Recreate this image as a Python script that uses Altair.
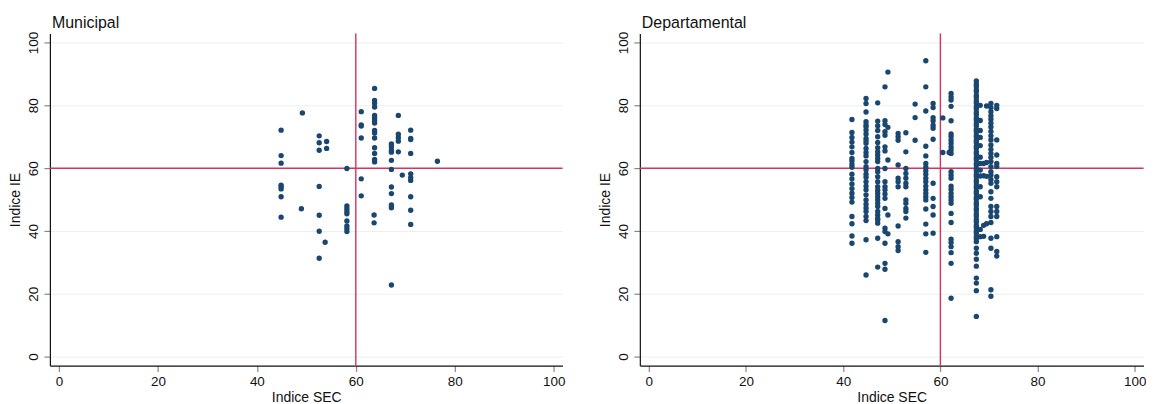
import altair as alt
import pandas as pd

# ---------------- data ----------------
# Municipal: x position (Indice SEC) of each column of points and the y values (Indice IE)
muni_x = [44.9, 49.2, 49.0, 52.6, 54.1, 53.8, 58.2, 61.1, 63.8, 63.7, 67.2, 68.6, 69.4, 71.1, 76.5]
muni_y = [
    [72.1, 64.0, 61.6, 54.6, 54.1, 53.4, 50.9, 44.4],
    [77.6],
    [47.1],
    [70.3, 68.1, 65.7, 54.2, 45.0, 39.9, 31.3],
    [68.5, 66.3],
    [36.4],
    [59.9, 48.0, 47.2, 46.3, 45.5, 43.2, 41.6, 40.7, 39.8],
    [78.0, 73.8, 73.4, 69.6, 56.6, 51.2],
    [85.4, 81.6, 80.7, 79.5, 76.8, 76.0, 75.2, 74.4, 72.0, 71.2, 69.6, 66.5, 64.7, 62.8, 62.0],
    [45.1, 42.6],
    [67.7, 66.8, 65.7, 65.1, 62.5, 59.6, 54.0, 51.9, 48.3, 47.4, 22.8],
    [76.8, 70.8, 69.7, 68.6, 65.2],
    [57.8],
    [72.1, 69.5, 69.1, 64.7, 58.2, 57.0, 56.1, 50.9, 46.6, 42.1],
    [62.2],
]

# Departamental
dept_x = [41.8, 44.7, 47.1, 48.6, 49.2, 51.3, 52.9, 54.8, 57.0, 58.5, 60.5, 61.8, 62.2,
          67.4, 68.2, 68.9, 69.5, 70.4, 71.6]
dept_y = [
    [75.5, 71.4, 69.8, 68.3, 66.8, 65.0, 63.1, 62.3, 61.2, 60.3, 58.1, 56.6, 55.0, 53.5, 52.0,
     50.7, 49.2, 44.6, 42.3, 38.4, 36.1],
    [82.2, 80.6, 77.9, 74.8, 73.8, 73.2, 72.1, 70.9, 69.5, 68.7, 67.9, 66.3, 65.0, 63.9, 62.1,
     60.5, 59.5, 58.1, 57.1, 55.7, 54.3, 53.1, 51.5, 49.9, 48.5, 47.3, 46.2, 44.6, 43.3, 37.2, 26.0],
    [80.8, 75.0, 73.5, 72.0, 70.0, 68.2, 66.5, 65.2, 64.2, 63.1, 62.1, 59.9, 58.9, 57.3, 55.7,
     54.1, 53.0, 52.0, 50.9, 49.9, 48.8, 47.8, 46.2, 45.1, 44.0, 43.5, 42.5, 37.7, 28.5],
    [85.9, 75.1, 73.9, 71.6, 70.5, 66.8, 65.5, 59.9, 55.7, 54.1, 53.1, 51.8, 50.4, 47.2,
     40.9, 39.8, 36.1, 29.7, 27.8, 11.5],
    [90.6, 73.0, 62.6, 45.1, 39.1],
    [71.1, 70.0, 68.9, 61.0, 56.8, 55.7, 54.1, 41.6, 36.6, 35.0, 33.8],
    [71.3, 65.2, 59.9, 58.3, 56.8, 55.2, 54.1, 49.9, 48.8, 47.2, 46.2, 44.1],
    [80.4, 76.1, 68.9],
    [94.2, 85.9, 78.2, 67.0, 63.9, 61.5, 60.3, 59.2, 58.1, 56.8, 55.7, 54.3, 53.1, 52.0, 50.9,
     49.9, 47.0, 42.2, 39.1, 33.2],
    [80.6, 79.3, 76.1, 75.1, 73.7, 72.7, 69.2, 55.2, 50.4, 47.8, 45.1, 39.3],
    [76.0, 65.0],
    [65.0],
    [83.8, 82.7, 81.7, 79.7, 75.1, 70.9, 70.0, 68.9, 67.9, 66.8, 65.8, 64.7, 58.9, 57.8, 56.8,
     54.3, 53.3, 52.0, 50.9, 49.9, 48.8, 45.6, 42.7, 37.4, 36.3, 35.0, 33.1, 29.7, 18.6],
    [87.8, 86.8, 86.1, 85.0, 84.3, 83.2, 82.5, 81.4, 80.7, 79.6, 78.9, 77.8, 77.1, 76.0, 75.3,
     74.2, 73.5, 72.4, 71.7, 70.6, 69.9, 68.8, 68.1, 67.0, 66.3, 65.2, 64.5, 63.4, 62.7, 61.6,
     60.9, 59.8, 59.1, 58.0, 57.3, 56.2, 55.5, 54.4, 53.7, 52.6, 51.9, 50.8, 50.1, 49.0, 48.3,
     47.2, 46.5, 45.4, 44.7, 43.6, 42.9, 41.8, 41.1, 40.0, 39.3, 38.2, 37.5, 36.6, 34.5, 32.9,
     31.0, 28.8, 25.0, 23.4, 21.0, 12.8],
    [80.0, 75.2, 72.0, 69.8, 67.2, 63.5, 61.5, 59.4, 57.5, 54.1, 50.9, 40.5, 38.2],
    [61.5, 57.6, 41.8, 38.3],
    [79.8, 61.8, 57.4, 42.3],
    [80.6, 79.3, 78.0, 76.7, 75.6, 74.3, 73.1, 71.7, 70.3, 69.0, 67.4, 66.0, 64.7, 63.4, 62.1,
     60.5, 58.9, 57.8, 56.4, 55.2, 52.5, 50.4, 47.8, 46.2, 44.6, 42.7, 37.7, 34.5, 21.3, 19.2],
    [80.0, 79.0, 69.0, 64.2, 61.5, 60.5, 57.3, 55.7, 54.1, 47.8, 46.2, 44.6, 38.2, 33.5, 32.0],
]

ticks = [0, 20, 40, 60, 80, 100]
threshold = [60]
panel_titles = ["Municipal", "Departamental"]

# ---------------- styling ----------------
NAVY = "#1a476f"
RED = "#d4335e"
GRID = "#e9f0f0"
FONT = "Liberation Sans"


def to_frame(xs, ys):
    rows = []
    for x, col in zip(xs, ys):
        for y in col:
            rows.append({"sec": x, "ie": y})
    return pd.DataFrame(rows)


def panel(df, title, width):
    xscale = alt.Scale(domain=[-1.85, 101.8], nice=False, zero=False)
    yscale = alt.Scale(domain=[-2.86, 102.9], nice=False, zero=False)
    line_df = pd.DataFrame({"v": threshold})
    vline = alt.Chart(line_df).mark_rule(color=RED, strokeWidth=1.4).encode(
        x=alt.X("v:Q", scale=xscale)
    )
    hline = alt.Chart(line_df).mark_rule(color=RED, strokeWidth=1.4).encode(
        y=alt.Y("v:Q", scale=yscale)
    )
    pts = alt.Chart(df).mark_circle(size=29, color=NAVY, opacity=1).encode(
        x=alt.X(
            "sec:Q",
            scale=xscale,
            axis=alt.Axis(
                values=ticks, title="Indice SEC", grid=False, format="d",
                labelPadding=3, titlePadding=3,
            ),
        ),
        y=alt.Y(
            "ie:Q",
            scale=yscale,
            axis=alt.Axis(
                values=ticks, title="Indice IE", grid=True, gridColor=GRID, format="d",
                labelAngle=270, labelAlign="center", labelBaseline="alphabetic",
                labelPadding=6, titlePadding=4,
            ),
        ),
    )
    return alt.layer(vline, hline, pts).properties(
        width=width,
        height=333,
        title=alt.TitleParams(
            title, anchor="start", frame="group", fontSize=16, fontWeight="normal",
            font=FONT, color="#111111", dx=2, offset=0,
        ),
    )


left = panel(to_frame(muni_x, muni_y), panel_titles[0], 514)
right = panel(to_frame(dept_x, dept_y), panel_titles[1], 505)

chart = (
    alt.hconcat(left, right, spacing=33.5)
    .resolve_scale(x="independent", y="independent")
    .configure(padding={"left": 1, "top": 6, "right": 0, "bottom": 0})
    .configure_view(stroke=None)
    .configure_axis(
        labelFont=FONT, titleFont=FONT, labelFontSize=13.5, titleFontSize=14,
        titleFontWeight="normal", labelColor="#111111", titleColor="#111111",
        domainColor="#111111", domainWidth=1.2, tickColor="#888888", tickSize=6,
        tickWidth=1.2,
    )
)

chart.save("out.html", embed_options={"renderer": "svg", "actions": False})
